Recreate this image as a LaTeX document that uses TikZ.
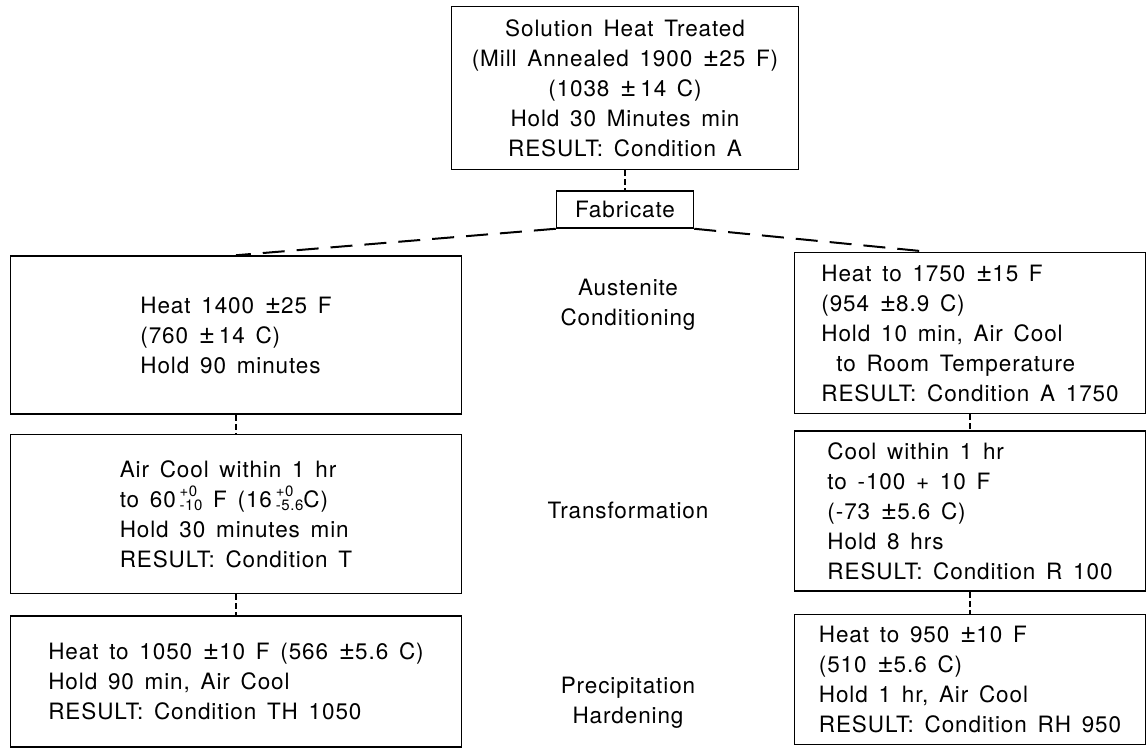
\documentclass[tikz,border=0pt]{standalone}
\usepackage{fontspec}
\setmainfont{TeX Gyre Heros}[LetterSpace=4, WordSpace=1.5]
\usepackage{tikz}
\usetikzlibrary{positioning}

\newcommand{\diagtext}{\fontsize{22.5}{30}\selectfont}
\newcommand{\pmbig}{{\fontsize{28}{30}\selectfont ±}}
\newcommand{\tolpm}[2]{\raisebox{3pt}{\fontsize{15}{14}\selectfont\begin{tabular}[c]{@{}l@{}}#1\\[-1pt]#2\end{tabular}}}

\begin{document}
\begin{tikzpicture}[
  x=1pt, y=-1pt,
  box/.style={draw, line width=1.5pt, align=left, inner sep=0pt, font=\diagtext},
  headbox/.style={box, align=center},
  lbox/.style={box, minimum width=451pt},
  rbox/.style={box, minimum width=351pt},
  stage/.style={align=center, font=\diagtext},
  link/.style={line width=1.2pt, dash pattern=on 6pt off 3pt},
  fan/.style={line width=2pt, dash pattern=on 22pt off 12pt}
]
\useasboundingbox (0,0) rectangle (1147,747);

% solution treatment and fabrication
\node[headbox, minimum width=347pt, minimum height=163pt] (sht) at (625,88) {Solution Heat Treated\\(Mill Annealed 1900 \pmbig25 F)\\(1038 \pmbig\,14 C)\\Hold 30 Minutes min\\RESULT: Condition A};
\node[headbox, minimum width=137pt, minimum height=37pt, below=20pt of sht] (fab) {Fabricate};

% left route
\node[lbox, minimum height=158pt] (l1) at (236,335) {Heat 1400 \pmbig25 F\\(760 \pmbig\,14 C)\\Hold 90 minutes};
\node[lbox, minimum height=159pt, below=19pt of l1] (l2) {Air Cool within 1 hr\\to 60\,\tolpm{+0}{-10} F (16\,\tolpm{+0}{-5.6}C)\\Hold 30 minutes min\\RESULT: Condition T};
\node[lbox, minimum height=131pt, below=21pt of l2] (l3) {Heat to 1050 \pmbig10 F (566 \pmbig5.6 C)\\Hold 90 min, Air Cool\\RESULT: Condition TH 1050};

% right route
\node[rbox, minimum height=161pt] (r1) at (970,333) {Heat to 1750 \pmbig15 F\\(954 \pmbig8.9 C)\\Hold 10 min, Air Cool\\\hspace*{15pt}to Room Temperature\\RESULT: Condition A 1750};
\node[rbox, minimum height=160pt, below=16pt of r1] (r2) {Cool within 1 hr\\to -100 + 10 F\\(-73 \pmbig5.6 C)\\Hold 8 hrs\\RESULT: Condition R 100};
\node[rbox, minimum height=130pt, below=22pt of r2] (r3) {Heat to 950 \pmbig10 F\\(510 \pmbig5.6 C)\\Hold 1 hr, Air Cool\\RESULT: Condition RH 950};

% stage names
\node[stage] (aus) at (628,305) {Austenite\\Conditioning};
\node[stage] (trf) at (628,510) {Transformation};
\node[stage] (pha) at (628,703) {Precipitation\\Hardening};

\draw[link] (sht) -- (fab);
\draw[fan] (fab.south west) -- (l1.north);
\draw[fan] (fab.south east) -- ([xshift=-42pt]r1.north);
\draw[link] (l1) -- (l2);
\draw[link] (l2) -- (l3);
\draw[link] (r1) -- (r2);
\draw[link] (r2) -- (r3);

\end{tikzpicture}
\end{document}
